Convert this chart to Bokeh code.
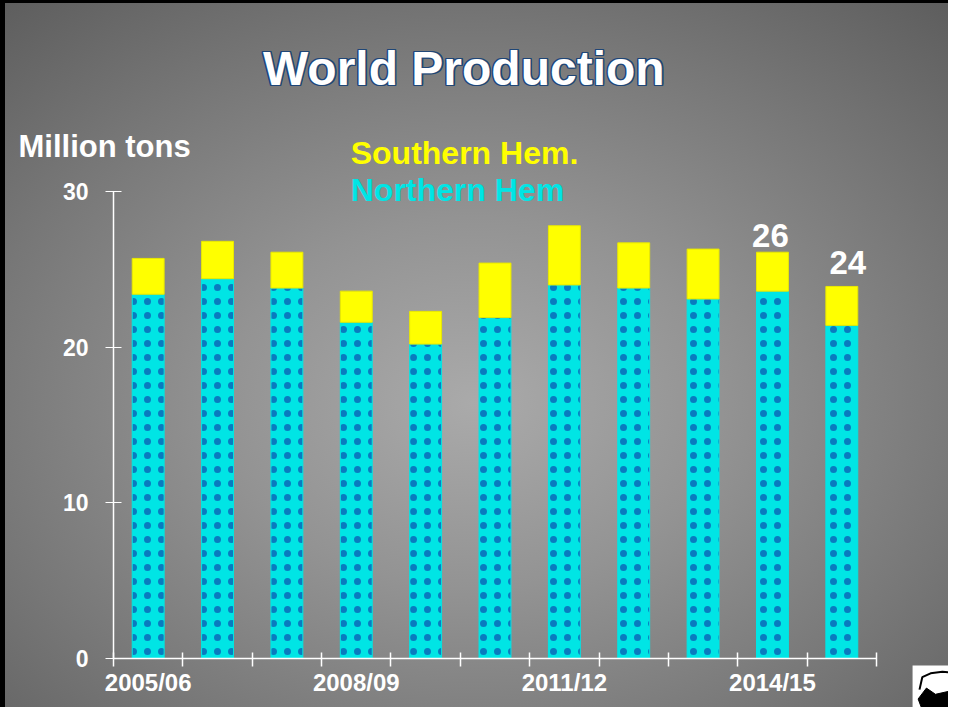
from bokeh.plotting import figure
from bokeh.models import Range1d, FixedTicker, ColumnDataSource
from bokeh.core.properties import value
from bokeh.embed import file_html
from bokeh.resources import INLINE

# ---- data ----
seasons = ["2005/06", "2006/07", "2007/08", "2008/09", "2009/10", "2010/11",
           "2011/12", "2012/13", "2013/14", "2014/15", "2015/16"]
northern = [23.4, 24.4, 23.8, 21.6, 20.2, 21.9, 24.0, 23.8, 23.1, 23.6, 21.4]
southern = [2.3, 2.4, 2.3, 2.0, 2.1, 3.5, 3.8, 2.9, 3.2, 2.5, 2.5]
tick_label_seasons = ["2005/06", "2008/09", "2011/12", "2014/15"]
labelled_seasons = ["2014/15", "2015/16"]
y_ticks = [0, 10, 20, 30]
y_max = 30

# label nudges (pixels) for the two value labels
label_dx = [-2, 6]
label_dy = [-5, -12]

FONT = "Liberation Sans"

xs = [i + 0.5 for i in range(len(seasons))]
totals = [n + s for n, s in zip(northern, southern)]
n = len(seasons)

src = ColumnDataSource(dict(x=xs, north=northern, total=totals, season=seasons))

# plot frame covers whole canvas; axes are placed at fixed data locations
p = figure(width=948, height=707, output_backend="svg", toolbar_location=None,
           x_range=Range1d(-1.629, 12.038), y_range=Range1d(-3.148, 42.27),
           min_border=0)

p.background_fill_color = None
p.border_fill_color = None
p.outline_line_color = None
p.styles = {
    "background": "radial-gradient(ellipse 75% 75% at 50% 57%, #aaaaaa 0%, #939393 35%, #777777 70%, #5e5e5e 100%)",
    "box-shadow": "inset 5px 3px 0 0 #000000",
}
p.grid.visible = False

# bars
p.vbar(x="x", top="north", bottom=0, width=0.46, source=src,
       fill_color="#00e5e5", line_color="#00e5e5",
       hatch_pattern=".", hatch_color="#12129a", hatch_scale=14,
       hatch_weight=0.2, hatch_alpha=0.5)
p.vbar(x="x", top="total", bottom="north", width=0.46, source=src,
       fill_color="#ffff00", line_color="#e8e800", line_width=1)

# value labels
lab_idx = [seasons.index(s) for s in labelled_seasons]
lab_src = ColumnDataSource(dict(
    x=[xs[i] for i in lab_idx], y=[totals[i] for i in lab_idx],
    t=[str(round(totals[i])) for i in lab_idx], dx=label_dx, dy=label_dy))
p.text(x="x", y="y", text="t", source=lab_src, text_align="center",
       text_baseline="bottom", x_offset="dx", y_offset="dy", text_color="white",
       text_font=value(FONT), text_font_style="bold", text_font_size="33px")

# y axis
ya = p.yaxis[0]
ya.fixed_location = 0
ya.bounds = (0, y_max)
ya.ticker = FixedTicker(ticks=y_ticks)
ya.axis_line_color = "white"
ya.axis_line_width = 1.5
ya.major_tick_line_color = "white"
ya.major_tick_in = 8
ya.major_tick_out = 8
ya.minor_tick_line_color = None
ya.major_label_text_color = "white"
ya.major_label_text_font = FONT
ya.major_label_text_font_style = "bold"
ya.major_label_text_font_size = "23px"
ya.major_label_standoff = 17

# x axis
xa = p.xaxis[0]
xa.fixed_location = 0
xa.bounds = (0, n)
tick_pos = [xs[seasons.index(s)] for s in tick_label_seasons]
xa.ticker = FixedTicker(ticks=tick_pos, minor_ticks=list(range(n + 1)))
xa.major_label_overrides = {xs[seasons.index(s)]: s for s in tick_label_seasons}
xa.axis_line_color = "white"
xa.axis_line_width = 1.5
xa.major_tick_line_color = None
xa.major_tick_in = 0
xa.major_tick_out = 0
xa.minor_tick_line_color = "white"
xa.minor_tick_line_width = 1.5
xa.minor_tick_in = 6
xa.minor_tick_out = 8
xa.major_label_text_color = "white"
xa.major_label_text_font = FONT
xa.major_label_text_font_style = "bold"
xa.major_label_text_font_size = "24px"
xa.major_label_standoff = 3

# ---- texts placed in data space (frame covers canvas) ----
def txt(x, y, s, color, size, align="left", dx=0, dy=0):
    p.text(x=[x], y=[y], text=[s], x_offset=dx, y_offset=dy,
           text_align=align, text_baseline="middle", text_color=color,
           text_font=value(FONT), text_font_style="bold", text_font_size=size)

# title with outline
title_x, title_y = 5.05, 37.9
off = 1.3
for dx, dy in [(-off, 0), (off, 0), (0, -off), (0, off),
               (-off, -off), (off, off), (-off, off), (off, -off)]:
    txt(title_x, title_y, "World Production", "#1f4677", "48px", "center", dx, dy)
txt(title_x, title_y, "World Production", "white", "48px", "center")

txt(-1.37, 32.9, "Million tons", "white", "31px")
txt(3.42, 32.5, "Southern Hem.", "#ffff00", "32px")
txt(3.42, 30.1, "Northern Hem", "#00e5e5", "32px")

# small cotton-boll logo (bottom right, partly beyond the canvas)
logo_l, logo_r, logo_t, logo_b = 11.52, 12.1, -0.45, -3.3
p.quad(left=[logo_l], right=[logo_r], top=[logo_t], bottom=[logo_b],
       fill_color="white", line_color=None)
p.line(x=[11.62, 11.66, 11.78, 11.95, 12.05], y=[-2.0, -1.2, -0.95, -0.85, -0.9],
       line_color="black", line_width=2)
p.patch(x=[11.6, 11.72, 11.85, 12.05, 12.05, 11.66],
        y=[-2.6, -1.9, -2.3, -2.1, -3.3, -3.3],
        fill_color="black", line_color="black")

open("out.html", "w").write(file_html(p, INLINE))
